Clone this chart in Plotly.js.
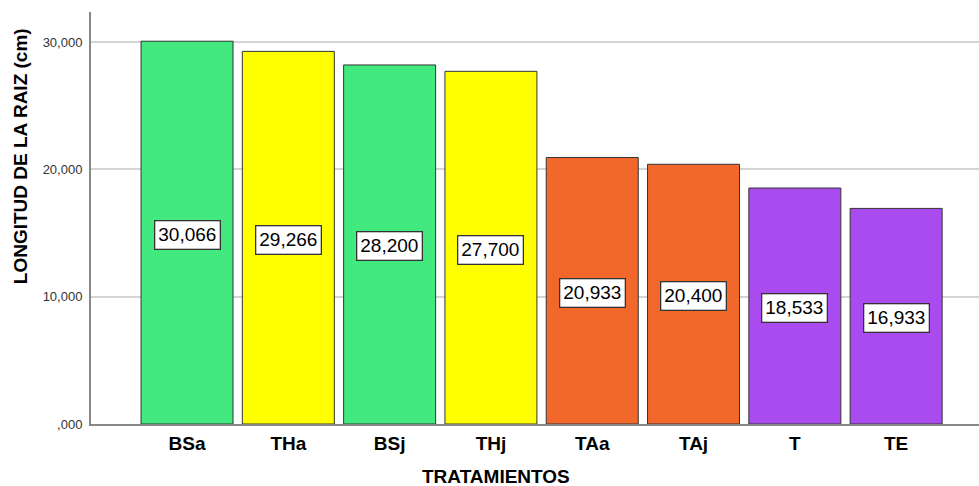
<!DOCTYPE html>
<html>
<head>
<meta charset="utf-8">
<script src="https://cdn.plot.ly/plotly-3.0.1.min.js"></script>
<style>
  html, body { margin: 0; padding: 0; background: #fff; }
  #chart { width: 979px; height: 486px; }
</style>
</head>
<body>
<div id="chart"></div>
<script>
// Treatments and mean root length (cm)
const tratamientos = ["BSa", "THa", "BSj", "THj", "TAa", "TAj", "T", "TE"];
const longitud = [30.066, 29.266, 28.2, 27.7, 20.933, 20.4, 18.533, 16.933];
const colores = ["#41e97f", "#ffff00", "#41e97f", "#ffff00", "#f2672a", "#f2672a", "#a94bee", "#a94bee"];
const yTicks = [0, 10, 20, 30];
const yTickText = [",000", "10,000", "20,000", "30,000"];

const fmt = v => v.toFixed(3).replace(".", ",");
const FONT = "Liberation Sans, Arial, sans-serif";

const bars = {
  type: "bar",
  x: tratamientos,
  y: longitud,
  marker: { color: colores, line: { color: "#333333", width: 1 } },
  hoverinfo: "x+y",
  showlegend: false
};

const labels = tratamientos.map((t, i) => ({
  x: t,
  y: longitud[i] / 2,
  xref: "x",
  yref: "y",
  text: fmt(longitud[i]),
  showarrow: false,
  yshift: -2,
  bgcolor: "#ffffff",
  bordercolor: "#333333",
  borderwidth: 1.3,
  borderpad: 3,
  font: { family: FONT, size: 19, color: "#000" }
}));

labels.push({
  text: "TRATAMIENTOS",
  xref: "paper", yref: "paper",
  x: 0.456, y: -0.128,
  xanchor: "center", yanchor: "middle",
  showarrow: false,
  font: { family: FONT, size: 19, color: "#000", weight: "bold" }
});
labels.push({
  text: "LONGITUD DE LA RAIZ (cm)",
  xref: "paper", yref: "paper",
  x: -0.08, y: 0.65,
  xanchor: "center", yanchor: "middle",
  textangle: -90,
  showarrow: false,
  font: { family: FONT, size: 19, color: "#000", weight: "bold" }
});

const layout = {
  width: 979,
  height: 486,
  margin: { l: 91, r: 0, t: 12, b: 62 },
  paper_bgcolor: "#ffffff",
  plot_bgcolor: "#ffffff",
  bargap: 0.092,
  font: { family: FONT },
  xaxis: {
    type: "category",
    range: [-0.948, 7.818],
    showline: true,
    linecolor: "#888888",
    linewidth: 2,
    showgrid: false,
    ticks: "",
    tickfont: { size: 19, color: "#000", weight: "bold" },
    ticklabelstandoff: 1
  },
  yaxis: {
    range: [0, 32.36],
    tickvals: yTicks,
    ticktext: yTickText,
    showline: true,
    linecolor: "#888888",
    linewidth: 2,
    showgrid: true,
    gridcolor: "#d4d4d4",
    gridwidth: 2,
    zeroline: false,
    ticks: "",
    tickfont: { size: 13, color: "#333333" },
    ticklabelstandoff: 4
  },
  annotations: labels
};

Plotly.newPlot("chart", [bars], layout, { displayModeBar: false, staticPlot: true });
</script>
</body>
</html>
